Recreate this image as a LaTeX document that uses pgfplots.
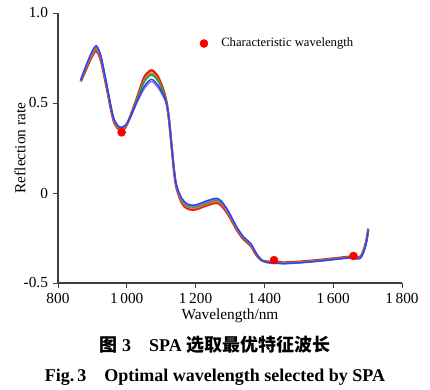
\documentclass[border=0pt]{standalone}
\usepackage{pgfplots}
\pgfplotsset{compat=1.18}
\usepackage{pgfplotstable}
\usepackage{fontspec}
\setmainfont{Liberation Serif}
\newfontfamily\cjk{Noto Sans CJK SC}
\definecolor{cred}{RGB}{228,28,28}
\definecolor{cora}{RGB}{230,120,30}
\definecolor{cgreen}{RGB}{40,160,70}
\definecolor{cpurple}{RGB}{150,110,235}
\definecolor{cblue}{RGB}{45,70,235}
\pgfplotstableread{
x b r o g p
866 0.628 0.620 0.622 0.625 0.627
880 0.700 0.680 0.687 0.693 0.697
895 0.770 0.745 0.752 0.762 0.766
908 0.815 0.788 0.796 0.805 0.810
915 0.810 0.782 0.790 0.800 0.805
925 0.760 0.735 0.742 0.750 0.755
940 0.620 0.600 0.607 0.613 0.618
955 0.470 0.455 0.460 0.465 0.470
965 0.400 0.385 0.390 0.395 0.400
980 0.365 0.350 0.355 0.360 0.365
995 0.375 0.362 0.366 0.370 0.375
1010 0.420 0.425 0.423 0.422 0.417
1030 0.510 0.530 0.525 0.520 0.505
1050 0.590 0.640 0.625 0.615 0.578
1065 0.625 0.675 0.660 0.650 0.613
1075 0.630 0.680 0.665 0.655 0.618
1090 0.600 0.648 0.635 0.625 0.588
1105 0.550 0.580 0.570 0.565 0.540
1115 0.500 0.510 0.505 0.503 0.497
1122 0.420 0.420 0.420 0.420 0.420
1130 0.270 0.265 0.267 0.268 0.270
1138 0.120 0.110 0.113 0.116 0.120
1145 0.040 0.025 0.030 0.034 0.038
1160 -0.030 -0.055 -0.048 -0.040 -0.035
1175 -0.060 -0.085 -0.078 -0.070 -0.065
1193 -0.068 -0.093 -0.086 -0.078 -0.073
1210 -0.060 -0.085 -0.078 -0.070 -0.065
1230 -0.045 -0.070 -0.063 -0.055 -0.050
1250 -0.033 -0.058 -0.051 -0.043 -0.038
1262 -0.030 -0.055 -0.048 -0.040 -0.035
1275 -0.045 -0.070 -0.063 -0.055 -0.050
1295 -0.100 -0.120 -0.114 -0.108 -0.104
1320 -0.190 -0.205 -0.200 -0.195 -0.192
1340 -0.245 -0.258 -0.254 -0.250 -0.247
1360 -0.280 -0.292 -0.288 -0.285 -0.282
1375 -0.330 -0.340 -0.337 -0.334 -0.332
1390 -0.370 -0.372 -0.371 -0.370 -0.370
1405 -0.385 -0.380 -0.382 -0.383 -0.385
1430 -0.390 -0.384 -0.386 -0.388 -0.390
1460 -0.392 -0.386 -0.388 -0.390 -0.392
1500 -0.388 -0.382 -0.384 -0.386 -0.388
1550 -0.380 -0.374 -0.376 -0.378 -0.380
1600 -0.370 -0.364 -0.366 -0.368 -0.370
1650 -0.360 -0.354 -0.356 -0.358 -0.360
1670 -0.365 -0.358 -0.361 -0.363 -0.365
1680 -0.360 -0.352 -0.355 -0.358 -0.360
1690 -0.320 -0.310 -0.314 -0.317 -0.320
1697 -0.270 -0.258 -0.262 -0.266 -0.270
1702 -0.210 -0.198 -0.202 -0.206 -0.210
}\spectra
\begin{document}
\begin{tikzpicture}
\begin{axis}[
  name=ax,
  scale only axis, width=258pt, height=202.5pt,
  xmin=800, xmax=1800, ymin=-0.5, ymax=1.0,
  axis lines=left, axis line style={-, line width=0.8pt, black!75},
  xtick={800,1000,1200,1400,1600,1800},
  xticklabels={800,1\,000,1\,200,1\,400,1\,600,1\,800},
  ytick={-0.5,0,0.5,1},
  yticklabels={-0.5,0,0.5,1.0},
  tick align=outside, major tick length=4pt,
  tick style={black!75, line width=0.7pt},
  ticklabel style={font=\fontsize{11.5}{13}\selectfont},
  xlabel={Wavelength/nm}, ylabel={Reflection rate},
  label style={font=\fontsize{11.5}{13}\selectfont},
  xlabel style={at={(axis description cs:0.5,-0.1222)}, anchor=center},
  ylabel style={at={(axis description cs:-0.1105,0.5)}, anchor=center},
  legend style={at={(axis description cs:0.408,0.887)}, anchor=west, draw=none, fill=none,
    font=\fontsize{9.5}{11}\selectfont, inner sep=1pt},
  legend cell align=left,
  clip=false,
]
\addplot[forget plot, cred, line width=1.8pt, smooth, tension=0.5] table[x=x,y=r]{\spectra};
\addplot[forget plot, cora, line width=1.1pt, smooth, tension=0.5] table[x=x,y=o]{\spectra};
\addplot[forget plot, cgreen, line width=1.3pt, smooth, tension=0.5] table[x=x,y=g]{\spectra};
\addplot[forget plot, cpurple, line width=1.2pt, smooth, tension=0.5] table[x=x,y=p]{\spectra};
\addplot[forget plot, cblue, line width=1.1pt, smooth, tension=0.5] table[x=x,y=b]{\spectra};
\addplot[only marks, mark=*, mark size=3pt, color=red, fill=red] coordinates {(985,0.337) (1428,-0.373) (1659,-0.350)};
\addlegendentry{\hspace*{8pt}Characteristic wavelength}
\end{axis}
\node[font=\bfseries\fontsize{13.5}{15}\selectfont] at (117.75pt,-46.5pt) {{\cjk 图}~3\quad SPA {\cjk 选取最优特征波长}};
\node[font=\bfseries\fontsize{13.5}{15}\selectfont] at (117.75pt,-70.5pt) {Fig.\,3\quad Optimal wavelength selected by SPA};
\pgfresetboundingbox
\path[use as bounding box] (-43.5pt,-80.25pt) rectangle (279pt,212.25pt);
\end{tikzpicture}
\end{document}
